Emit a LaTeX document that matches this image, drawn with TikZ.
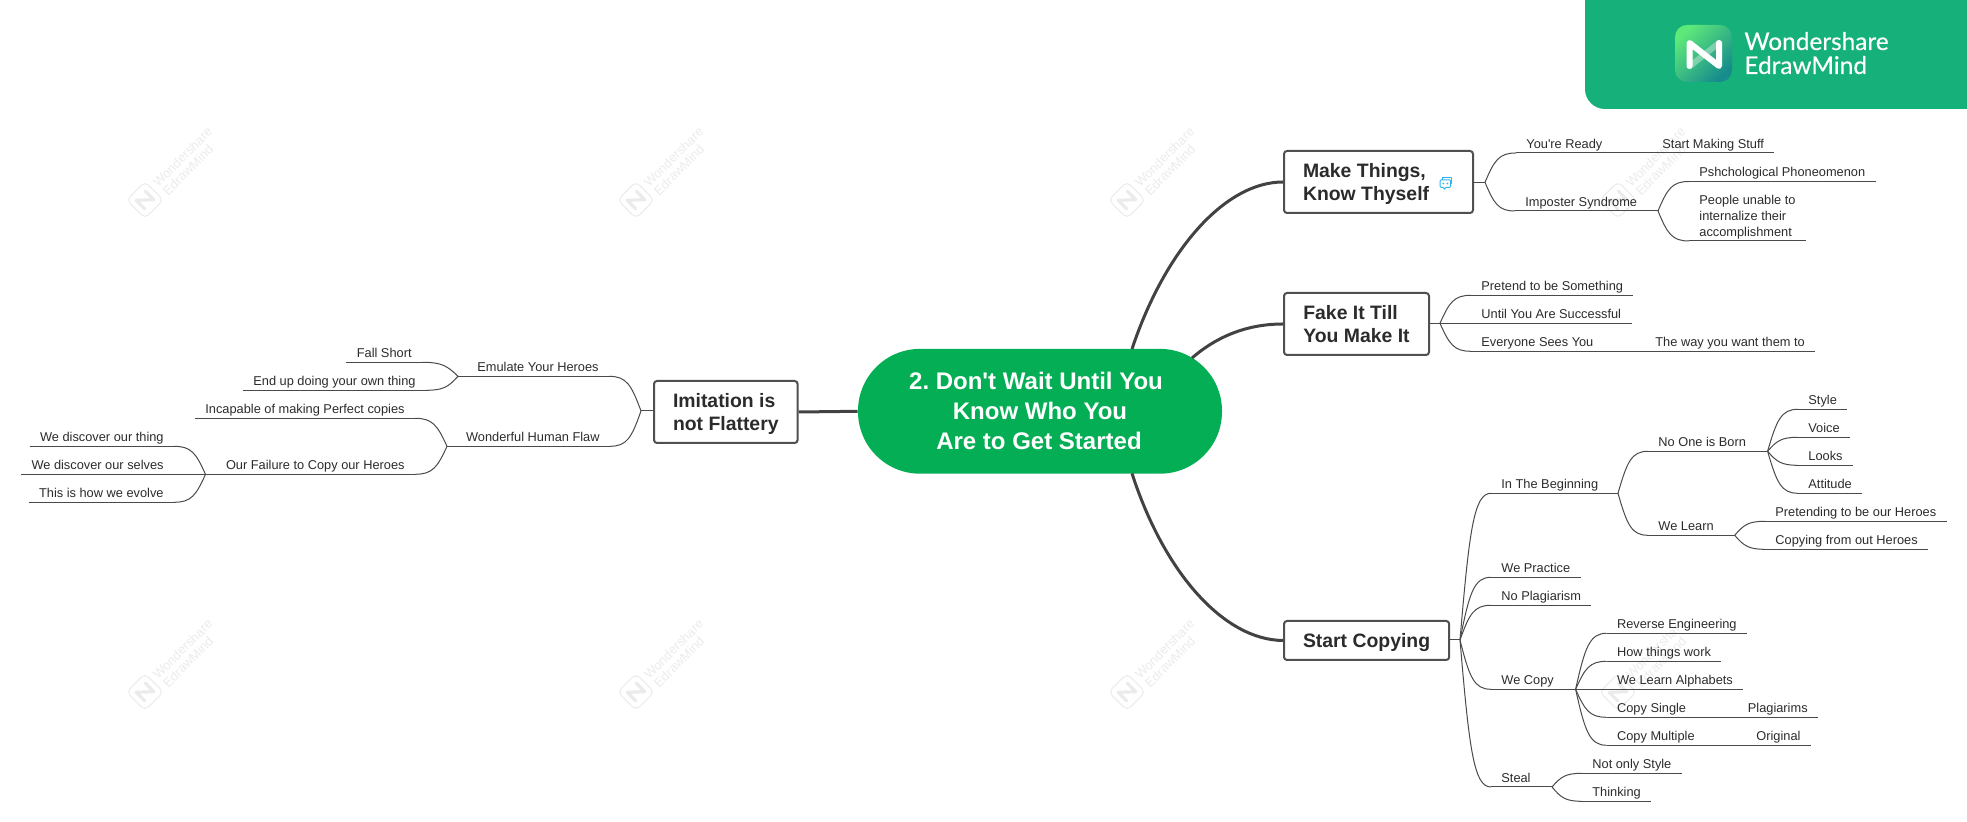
\documentclass[tikz,border=0pt]{standalone}
\usepackage{fontspec}
\setmainfont{Liberation Sans}
\newfontfamily\brandfont[FakeBold=0.25]{Lato}
\usetikzlibrary{shapes,positioning,calc}

\definecolor{rootGreen}{HTML}{03AE54}
\definecolor{bannerGreen}{HTML}{16B07A}
\definecolor{limbGrey}{HTML}{424242}
\definecolor{boxGrey}{HTML}{505050}
\definecolor{twigGrey}{HTML}{4A4A4A}
\definecolor{inkGrey}{HTML}{2B2B2B}
\definecolor{chatBlue}{HTML}{2DB7F5}
\definecolor{markGrey}{HTML}{EBEBEB}
\definecolor{logoLight}{HTML}{5DE87A}
\definecolor{logoMid}{HTML}{3FC078}
\definecolor{logoDark}{HTML}{178C8C}

\begin{document}
\begin{tikzpicture}
  [x=0.5pt,y=-0.5pt,
   rootN/.style={rectangle,fill=rootGreen,text=white,rounded corners=31pt,inner sep=0pt,
     minimum width=182pt,minimum height=62.4pt,align=center,
     font=\fontsize{12}{15}\selectfont\bfseries\frenchspacing},
   topicN/.style={rectangle,draw=boxGrey,fill=white,line width=1pt,rounded corners=1.5pt,
     anchor=north west,inner xsep=9.5pt,inner ysep=0pt,align=left,text=inkGrey,text depth=0pt,
     font=\fontsize{9.7}{11.75}\selectfont\bfseries},
   lineN/.style={draw=twigGrey,line width=0.5pt},
   leafN/.style={anchor=south west,inner xsep=5pt,inner ysep=2.25pt,text depth=0pt,text=inkGrey,
     font=\fontsize{6.4}{8}\selectfont,
     append after command={(\tikzlastnode.south west) edge[lineN] (\tikzlastnode.south east)}},
   leafL/.style={leafN,anchor=south east},
   limbN/.style={draw=limbGrey,line width=1.5pt},
   twigN/.style={lineN,to path={let \p1=(\tikztostart),\p2=(\tikztotarget) in
     .. controls (\x1+.3*\x2-.3*\x1,\y1+.75*\y2-.75*\y1) and (\x1+.45*\x2-.45*\x1,\y2) .. (\tikztotarget)}},
   wmarkN/.pic={
     \node[rectangle,draw=markGrey,line width=0.5pt,rounded corners=2.5pt,rotate=45,
       minimum size=13pt,inner sep=0pt] (-box) at (0,0) {};
     \draw[markGrey,line width=1.6pt,line cap=round,line join=round,rotate=45]
       (-6.5,6) -- (-6.5,-6) -- (6.5,6) -- (6.5,-6);
     \node[rotate=45,text=markGrey,font=\fontsize{6.5}{8}\selectfont] (-w) at (37.5,-43) {Wondershare};
     \node[rotate=45,text=markGrey,font=\fontsize{6.5}{8}\selectfont] (-e) at (43,-30) {EdrawMind};
   }]

  \useasboundingbox (0,0) rectangle (1967,822);

  % watermarks
  \pic (m1) at (145,200) {wmarkN};
  \pic (m2) at (636,200) {wmarkN};
  \pic (m3) at (1127,200) {wmarkN};
  \pic (m4) at (1618,200) {wmarkN};
  \pic (m5) at (145,692) {wmarkN};
  \pic (m6) at (636,692) {wmarkN};
  \pic (m7) at (1127,692) {wmarkN};
  \pic (m8) at (1618,692) {wmarkN};

  % banner
  \fill[bannerGreen] (1585,0) [rounded corners=10pt] -- (1585,109) [sharp corners] -- (1967,109) -- (1967,0) -- cycle;
  \shade[rounded corners=6pt,top color=logoLight,middle color=logoMid,bottom color=logoDark,shading angle=45]
    (1675,25) rectangle (1732,82);
  \draw[white,opacity=0.35,line width=3pt,line cap=round] (1719,43) -- (1690,66);
  \draw[white,line width=3pt,line cap=round,line join=round]
    (1689.5,66) -- (1689.5,43) -- (1719,66) -- (1719,43);
  \node[anchor=base west,inner sep=0pt,text=white,font=\fontsize{12.2}{12}\brandfont] (brandA) at (1744,50) {Wondershare};
  \node[anchor=base west,inner sep=0pt,text=white,font=\fontsize{12.2}{12}\brandfont] (brandB) at (1744,74) {EdrawMind};

  % main topics
  \node[rootN] (root) at (1040,411.3) {2. Don\textquotesingle t Wait Until You\hspace*{4pt}\\Know Who You\hspace*{4pt}\\Are to Get Started\hspace*{1pt}};
  \node[topicN,minimum width=94.5pt,minimum height=31pt] (make) at (1283,150) {Make Things,\\\makebox[75.5pt][l]{Know Thyself}};
  \node[topicN,minimum width=72.5pt,minimum height=31pt] (fake) at (1283,292) {Fake It Till\\You Make It};
  \node[topicN,minimum width=82.5pt,minimum height=19.5pt] (start) at (1283,620) {Start Copying};
  \node[topicN,minimum width=71pt,minimum height=31pt] (imit) at (653,380) {Imitation is\\not Flattery};

  \coordinate (rootA) at (1132,349);
  \coordinate (rootB) at (1192,358);
  \coordinate (rootC) at (1132,473.5);
  \draw [limbN] (rootA) .. controls (1165,250) and (1225,182) .. (make.west);
  \draw [limbN] (rootB) .. controls (1215,338) and (1245,324) .. (fake.west);
  \draw [limbN] (rootC) .. controls (1165,575) and (1225,640) .. (start.west);
  \draw [limbN] (root.west) -- (imit.east);

  % chat icon
  \draw[chatBlue,line width=0.5pt,line join=round] (1442.8,180) -- (1442.8,177.3) -- (1451.7,177.3) -- (1451.7,184) -- (1450.7,184);
  \draw[chatBlue,line width=0.5pt,line join=round,rounded corners=0.5pt] (1440,180) -- (1450.7,180) -- (1450.7,187.3) -- (1445.5,187.3) -- (1444,190) -- (1444,187.3) -- (1440,187.3) -- cycle;
  \fill[chatBlue] (1443.3,183.5) circle (0.5pt) (1447.3,183.5) circle (0.5pt);

  % make things
  \coordinate (forkMake) at (1485,182.3);
  \coordinate (forkImposter) at (1658,211);
  \node[leafN] (ready) at (1516,153) {You\textquotesingle re Ready};
  \node[leafN] (making) at (1652,153) {Start Making Stuff};
  \node[leafN] (imposter) at (1515,211) {Imposter Syndrome};
  \node[leafN] (psycho) at (1689,181.5) {Pshchological Phoneomenon};
  \node[leafN] (people) at (1689,241) {\vbox{\hbox{People unable to}\hbox{internalize their}\hbox{accomplishment}}};
  \draw [lineN] (make.east |- forkMake) -- (forkMake);
  \draw [twigN] (forkMake) to (ready.south west);
  \draw [twigN] (forkMake) to (imposter.south west);
  \draw [lineN] (ready.south east) -- (making.south west);
  \draw [lineN] (imposter.south east) -- (forkImposter);
  \draw [twigN] (forkImposter) to (psycho.south west);
  \draw [twigN] (forkImposter) to (people.south west);

  % fake it
  \coordinate (forkFake) at (1440,323.3);
  \node[leafN] (pretend) at (1471,295.3) {Pretend to be Something};
  \node[leafN] (until) at (1471,323.3) {Until You Are Successful};
  \node[leafN] (everyone) at (1471,351.3) {Everyone Sees You};
  \node[leafN] (wayyou) at (1645,351.3) {The way you want them to};
  \draw [lineN] (fake.east |- forkFake) -- (forkFake);
  \draw [twigN] (forkFake) to (pretend.south west);
  \draw [lineN] (forkFake) -- (until.south west);
  \draw [twigN] (forkFake) to (everyone.south west);
  \draw [lineN] (everyone.south east) -- (wayyou.south west);

  % start copying
  \coordinate (forkStart) at (1460,640);
  \coordinate (forkBegin) at (1618,493.3);
  \coordinate (forkBorn) at (1767.6,451.3);
  \coordinate (forkLearn) at (1734.7,535.3);
  \coordinate (forkCopy) at (1575.6,689.3);
  \coordinate (forkSteal) at (1552,787);
  \node[leafN] (begin) at (1491,493.3) {In The Beginning};
  \node[leafN] (practice) at (1491,577.3) {We Practice};
  \node[leafN] (noplag) at (1491,605.3) {No Plagiarism};
  \node[leafN] (wecopy) at (1491,689.3) {We Copy};
  \node[leafN] (steal) at (1491,787) {Steal};
  \node[leafN] (born) at (1648,451.3) {No One is Born};
  \node[leafN] (learn) at (1648,535.3) {We Learn};
  \node[leafN] (style) at (1798,409.3) {Style};
  \node[leafN] (voice) at (1798,437.3) {Voice};
  \node[leafN] (looks) at (1798,465.3) {Looks};
  \node[leafN] (attitude) at (1798,493.3) {Attitude};
  \node[leafN] (pretending) at (1765,521.3) {Pretending to be our Heroes};
  \node[leafN] (copying) at (1765,549.3) {Copying from out Heroes};
  \node[leafN] (reverse) at (1606.7,633.3) {Reverse Engineering};
  \node[leafN] (how) at (1606.7,661.3) {How things work};
  \node[leafN] (alphabet) at (1606.7,689.3) {We Learn Alphabets};
  \node[leafN] (single) at (1606.7,717.3) {Copy Single};
  \node[leafN] (plagia) at (1737.5,717.3) {Plagiarims};
  \node[leafN] (multiple) at (1606.7,745.3) {Copy Multiple};
  \node[leafN] (original) at (1746,745.3) {Original};
  \node[leafN] (only) at (1582,773.3) {Not only Style};
  \node[leafN] (thinking) at (1582,801.3) {Thinking};
  \draw [lineN] (start.east |- forkStart) -- (forkStart);
  \draw [twigN] (forkStart) to (begin.south west);
  \draw [twigN] (forkStart) to (practice.south west);
  \draw [twigN] (forkStart) to (noplag.south west);
  \draw [twigN] (forkStart) to (wecopy.south west);
  \draw [twigN] (forkStart) to (steal.south west);
  \draw [lineN] (begin.south east) -- (forkBegin);
  \draw [twigN] (forkBegin) to (born.south west);
  \draw [twigN] (forkBegin) to (learn.south west);
  \draw [lineN] (born.south east) -- (forkBorn);
  \draw [twigN] (forkBorn) to (style.south west);
  \draw [twigN] (forkBorn) to (voice.south west);
  \draw [twigN] (forkBorn) to (looks.south west);
  \draw [twigN] (forkBorn) to (attitude.south west);
  \draw [lineN] (learn.south east) -- (forkLearn);
  \draw [twigN] (forkLearn) to (pretending.south west);
  \draw [twigN] (forkLearn) to (copying.south west);
  \draw [lineN] (wecopy.south east) -- (forkCopy);
  \draw [twigN] (forkCopy) to (reverse.south west);
  \draw [twigN] (forkCopy) to (how.south west);
  \draw [lineN] (forkCopy) -- (alphabet.south west);
  \draw [twigN] (forkCopy) to (single.south west);
  \draw [twigN] (forkCopy) to (multiple.south west);
  \draw [lineN] (single.south east) -- (plagia.south west);
  \draw [lineN] (multiple.south east) -- (original.south west);
  \draw [lineN] (steal.south east) -- (forkSteal);
  \draw [twigN] (forkSteal) to (only.south west);
  \draw [twigN] (forkSteal) to (thinking.south west);

  % imitation
  \coordinate (forkImit) at (641,411);
  \coordinate (forkEmulate) at (458,376.3);
  \coordinate (forkFlaw) at (447,446.3);
  \coordinate (forkFail) at (205.5,474.3);
  \node[leafL] (emulate) at (609,376.3) {Emulate Your Heroes};
  \node[leafL] (flaw) at (610,446.3) {Wonderful Human Flaw};
  \node[leafL] (fall) at (422,362.3) {Fall Short};
  \node[leafL] (ownthing) at (426,390.3) {End up doing your own thing};
  \node[leafL] (incapable) at (415,418.3) {Incapable of making Perfect copies};
  \node[leafL] (failure) at (415,474.3) {Our Failure to Copy our Heroes};
  \node[leafL] (thing) at (174,446.3) {We discover our thing};
  \node[leafL] (selves) at (174,474.3) {We discover our selves};
  \node[leafL] (evolve) at (174,502.3) {This is how we evolve};
  \draw [lineN] (imit.west |- forkImit) -- (forkImit);
  \draw [twigN] (forkImit) to (emulate.south east);
  \draw [twigN] (forkImit) to (flaw.south east);
  \draw [lineN] (emulate.south west) -- (forkEmulate);
  \draw [twigN] (forkEmulate) to (fall.south east);
  \draw [twigN] (forkEmulate) to (ownthing.south east);
  \draw [lineN] (flaw.south west) -- (forkFlaw);
  \draw [twigN] (forkFlaw) to (incapable.south east);
  \draw [twigN] (forkFlaw) to (failure.south east);
  \draw [lineN] (failure.south west) -- (forkFail);
  \draw [twigN] (forkFail) to (thing.south east);
  \draw [lineN] (forkFail) -- (selves.south east);
  \draw [twigN] (forkFail) to (evolve.south east);

\end{tikzpicture}
\end{document}
